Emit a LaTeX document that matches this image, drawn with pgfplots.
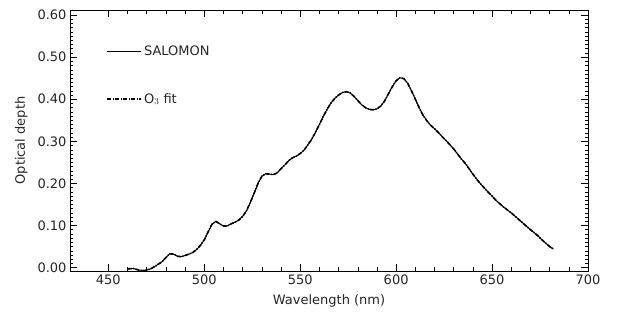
\documentclass[border=0pt]{standalone}
\usepackage{pgfplots}
\pgfplotsset{compat=1.18}
\usepackage{fontspec}
\setmainfont{DejaVu Sans}
\begin{document}
\pgfplotstableread{
x y
460 -0.003
463 -0.002
466 -0.006
469 -0.007
472 -0.003
475 0.005
478 0.014
480 0.024
482 0.033
484 0.032
486 0.027
488 0.026
490 0.029
492 0.032
494 0.036
496 0.043
498 0.053
500 0.066
502 0.085
504 0.103
506 0.110
508 0.104
510 0.099
512 0.099
514 0.104
516 0.108
518 0.113
520 0.122
522 0.135
524 0.155
526 0.177
528 0.200
530 0.217
532 0.223
534 0.222
536 0.221
538 0.225
540 0.235
542 0.244
544 0.254
546 0.261
548 0.265
550 0.271
552 0.279
554 0.292
556 0.305
558 0.322
560 0.340
562 0.359
564 0.376
566 0.391
568 0.402
570 0.410
572 0.416
574 0.418
576 0.415
578 0.407
580 0.397
582 0.387
584 0.380
586 0.376
588 0.375
590 0.377
592 0.384
594 0.396
596 0.413
598 0.430
600 0.444
602 0.451
604 0.449
606 0.438
608 0.420
610 0.400
612 0.380
614 0.362
616 0.349
618 0.338
620 0.330
622 0.321
624 0.311
626 0.302
628 0.292
630 0.282
632 0.270
634 0.258
636 0.248
638 0.235
640 0.222
642 0.210
644 0.199
646 0.189
648 0.179
650 0.170
652 0.160
654 0.152
656 0.144
658 0.137
660 0.130
662 0.122
664 0.114
666 0.106
668 0.098
670 0.090
672 0.083
674 0.075
676 0.066
678 0.058
680 0.050
682 0.044
}\salomon
\begin{tikzpicture}
\begin{axis}[
  scale only axis,
  width=518pt, height=261pt,
  xmin=430, xmax=700,
  ymin=-0.008, ymax=0.612,
  xtick={450,500,550,600,650,700},
  ytick={0,0.1,0.2,0.3,0.4,0.5,0.6},
  minor x tick num=4,
  minor y tick num=9,
  tick align=inside,
  major tick length=7pt,
  minor tick length=3.5pt,
  axis line style={line width=0.7pt},
  every tick/.style={black, line width=0.5pt},
  tick label style={font=\fontsize{13}{14}\selectfont, text=black!85},
  label style={font=\fontsize{13}{14}\selectfont, text=black!85},
  yticklabel style={/pgf/number format/.cd, fixed, fixed zerofill, precision=2},
  /pgf/number format/assume math mode=true,
  xlabel={Wavelength (nm)},
  ylabel={Optical depth},
  xlabel style={yshift=-3pt},
  ylabel style={yshift=3pt},
  clip=true,
  legend style={at={(axis description cs:0.07,0.87)}, anchor=north west, draw=none, fill=none,
    row sep=32pt, font=\fontsize{13}{14}\selectfont, text=black!85, inner sep=0pt},
  legend cell align=left,
  legend image code/.code={\draw[#1] (0pt,0pt) -- (34pt,0pt);},
]
\addplot[black, line width=1pt] table[x=x,y=y] {\salomon};
\addlegendentry{SALOMON}
\addplot[black, line width=1.6pt, dash pattern=on 4pt off 1.5pt on 1pt off 1.5pt] table[x=x,y=y] {\salomon};
\addlegendentry{O$_3$ fit}
\end{axis}
\path ([xshift=-70pt,yshift=-42pt]current axis.south west) rectangle ([xshift=31pt,yshift=10pt]current axis.north east);
\end{tikzpicture}
\end{document}
